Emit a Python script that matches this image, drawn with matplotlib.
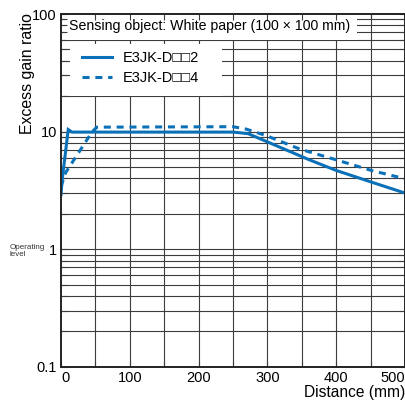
"""Excess gain ratio vs distance for E3JK-D□□2 / E3JK-D□□4 (white paper)."""

import matplotlib

matplotlib.use("Agg")
import matplotlib.pyplot as plt  # noqa: E402
import matplotlib.transforms as mtransforms  # noqa: E402
from matplotlib.patches import Rectangle  # noqa: E402
from matplotlib.ticker import FixedLocator, MultipleLocator, NullFormatter  # noqa: E402

# --- data ------------------------------------------------------------------
dist_2 = [0, 1.5, 10.5, 16, 250, 272, 361, 400, 451, 500]
gain_2 = [2.9, 3.8, 10.4, 9.9, 9.9, 9.6, 5.75, 4.67, 3.72, 3.0]

dist_4 = [0, 7, 45, 52, 250, 269, 299, 347, 400, 451, 500]
gain_4 = [3.4, 4.5, 9.9, 10.9, 11.0, 10.5, 9.2, 7.1, 5.75, 4.67, 3.97]

labels = ["E3JK-D\u25a1\u25a12", "E3JK-D\u25a1\u25a14"]
y_ticks = [0.1, 1, 10, 100]
y_ticklabels = ["0.1", "1", "10", "100"]
x_ticks = [0, 100, 200, 300, 400, 500]
title = "Sensing object: White paper (100 \u00d7 100 mm)"

BLUE = "#0a71b9"
GRID = "#3c3c3c"
FONT = ["Liberation Sans", "DejaVu Sans"]

plt.rcParams["font.family"] = FONT

W, H = 406, 401
fig = plt.figure(figsize=(W / 100, H / 100), dpi=100)
left, right, top, bottom = 61, 405, 14, 366.7
ax = fig.add_axes([left / W, 1 - bottom / H, (right - left) / W, (bottom - top) / H])

ax.set_xlim(0, 500)
ax.set_yscale("log")
ax.set_ylim(0.1, 100)

# full log grid, drawn by hand so the boxes can hide it but not the ticks
for dec in (0.1, 1, 10):
    for k in range(1, 10):
        ax.axhline(dec * k, color=GRID, lw=0.8, zorder=0.5)
for xv in range(50, 500, 50):
    ax.axvline(xv, color=GRID, lw=0.8, zorder=0.5)

blend = mtransforms.blended_transform_factory(ax.transAxes, ax.transData)
ax.add_patch(Rectangle((0.012, 60), 0.848, 40, transform=blend,
                       facecolor="white", edgecolor="none", zorder=1))
ax.add_patch(Rectangle((0.026, 20), 0.442, 35.5, transform=blend,
                       facecolor="white", edgecolor="none", zorder=1))

ax.text(0.023, 0.965, title, transform=ax.transAxes, fontsize=10.2,
        ha="left", va="center", zorder=4)

ax.plot(dist_2, gain_2, color=BLUE, lw=2.2, solid_joinstyle="miter",
        label=labels[0], zorder=3)
ax.plot(dist_4, gain_4, color=BLUE, lw=2.2, dashes=(2.3, 1.9),
        label=labels[1], zorder=3)

leg = ax.legend(loc="upper left", bbox_to_anchor=(0.043, 0.911), frameon=False,
                fontsize=10.5, handlelength=2.1, handletextpad=0.75,
                labelspacing=0.4, borderaxespad=0)
leg.set_zorder(4)

ax.yaxis.set_major_locator(FixedLocator(y_ticks))
ax.set_yticklabels(y_ticklabels)
ax.yaxis.set_minor_formatter(NullFormatter())
ax.xaxis.set_major_locator(FixedLocator(x_ticks))
ax.xaxis.set_minor_locator(MultipleLocator(50))
ax.tick_params(which="both", direction="in", top=True, right=True,
               length=4, width=0.8, color=GRID, labelsize=10.5, pad=3)
xlabels = ax.get_xticklabels()
xlabels[0].set_horizontalalignment("left")
xlabels[-1].set_horizontalalignment("right")

for sp in ax.spines.values():
    sp.set_linewidth(1.4)
    sp.set_color("#222222")
    sp.set_zorder(5)

fig.text(28 / W, 1 - 74 / H, "Excess gain ratio", rotation=90,
         ha="center", va="center", fontsize=11.4)
fig.text(405 / W, 1 - 393 / H, "Distance (mm)", ha="right", va="center",
         fontsize=11.2)
fig.text(10 / W, 1 - 251 / H, "Operating\nlevel", ha="left", va="center",
         fontsize=5.8, color="#333333", linespacing=1.15)

fig.savefig("out.png", dpi=100)
